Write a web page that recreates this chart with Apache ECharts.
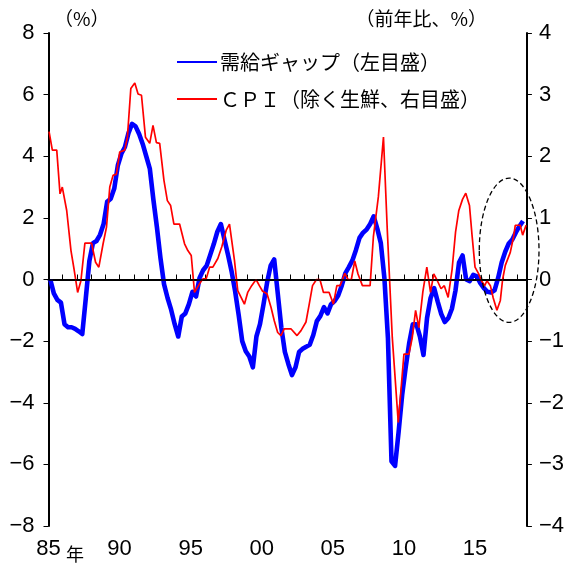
<!DOCTYPE html>
<html>
<head>
<meta charset="utf-8">
<script src="https://cdn.jsdelivr.net/npm/echarts@6/dist/echarts.min.js"></script>
<style>
  html, body { margin: 0; padding: 0; background: #fff; }
  #chart { width: 567px; height: 565px; }
</style>
</head>
<body>
<div id="chart"></div>
<script>
// Output gap (%, quarterly from 1985Q1), left scale
const gapStartYear = 1985;
const gapValues = [
  0.0, -0.45, -0.66, -0.75, -1.45, -1.55, -1.55, -1.6,
  -1.68, -1.77, -0.6, 0.6, 1.18, 1.25, 1.45, 1.8,
  2.52, 2.62, 2.95, 3.7, 4.08, 4.3, 4.75, 5.05,
  4.97, 4.72, 4.4, 4.0, 3.6, 2.6, 1.7, 0.7,
  -0.15, -0.6, -0.98, -1.45, -1.85, -1.2, -1.1, -0.8,
  -0.4, -0.55, 0.05, 0.3, 0.45, 0.8, 1.15, 1.55,
  1.8, 1.3, 0.8, 0.27, -0.38, -1.15, -2.0, -2.33,
  -2.5, -2.85, -1.85, -1.45, -0.8, -0.1, 0.45, 0.65,
  -0.45, -1.55, -2.35, -2.75, -3.1, -2.85, -2.35, -2.25,
  -2.18, -2.12, -1.8, -1.35, -1.18, -0.9, -1.1, -0.8,
  -0.7, -0.52, -0.2, 0.2, 0.4, 0.62, 0.96, 1.35,
  1.52, 1.62, 1.8, 2.05, 1.65, 1.18, 0.05, -1.9,
  -5.9, -6.05, -4.95, -3.75, -2.85, -2.05, -1.45, -1.45,
  -1.85, -2.45, -1.25, -0.6, -0.28, -0.72, -1.12, -1.38,
  -1.25, -0.95, -0.36, 0.55, 0.78, 0.0, -0.05, 0.15,
  0.1, -0.12, -0.28, -0.4, -0.42, -0.35, 0.05, 0.55,
  0.9, 1.17, 1.3, 1.53, 1.73, 1.9
];

// Core CPI (y/y %, excl. fresh food), right scale: dates (fractional year) and values
const cpiTimes = [
  1985.04, 1985.27, 1985.58, 1985.81, 1985.97, 1986.28, 1986.58, 1986.81,
  1987.05, 1987.28, 1987.56, 1988.03, 1988.31, 1988.54, 1988.84, 1989.08,
  1989.31, 1989.54, 1989.78, 1990.01, 1990.36, 1990.55, 1990.79, 1991.07,
  1991.30, 1991.54, 1991.82, 1992.12, 1992.35, 1992.59, 1992.82, 1993.12,
  1993.36, 1993.59, 1993.82, 1994.22, 1994.57, 1994.80, 1995.04, 1995.27,
  1995.62, 1995.86, 1996.09, 1996.33, 1996.56, 1996.91, 1997.19, 1997.50,
  1997.73, 1997.85, 1998.08, 1998.31, 1998.59, 1998.78, 1999.01, 1999.29,
  1999.60, 1999.83, 2000.06, 2000.37, 2000.65, 2000.88, 2001.12, 2001.35,
  2001.58, 2002.05, 2002.48, 2002.76, 2003.11, 2003.34, 2003.57, 2003.85,
  2004.09, 2004.34, 2004.74, 2005.04, 2005.28, 2005.51, 2005.84, 2006.07,
  2006.30, 2006.54, 2006.77, 2007.08, 2007.62, 2007.85, 2008.20, 2008.56,
  2008.83, 2009.18, 2009.60, 2010.00, 2010.35, 2010.58, 2010.82, 2011.05,
  2011.33, 2011.61, 2011.87, 2012.10, 2012.35, 2012.61, 2012.84, 2013.11,
  2013.39, 2013.63, 2013.86, 2014.12, 2014.35, 2014.61, 2014.79, 2015.00,
  2015.24, 2015.45, 2015.68, 2015.84, 2016.08, 2016.28, 2016.54, 2016.78,
  2016.94, 2017.13, 2017.48, 2017.71, 2017.83, 2018.18, 2018.35, 2018.59
];
const cpiValues = [
  2.4, 2.1, 2.1, 1.39, 1.5, 1.12, 0.47, 0.15,
  -0.21, -0.02, 0.59, 0.59, 0.28, 0.2, 0.58, 0.85,
  1.5, 1.69, 1.71, 2.07, 2.1, 2.31, 3.1, 3.19,
  3.01, 2.99, 2.31, 2.21, 2.5, 2.22, 2.21, 1.61,
  1.28, 1.2, 0.9, 0.9, 0.58, 0.47, 0.39, -0.21,
  -0.07, 0.01, 0.01, 0.2, 0.2, 0.34, 0.53, 0.8,
  0.9, 0.9, 0.31, -0.18, -0.31, -0.4, -0.21, -0.1,
  0.0, -0.1, -0.19, -0.23, -0.45, -0.67, -0.86, -0.91,
  -0.8, -0.8, -0.91, -0.83, -0.69, -0.4, -0.1, 0.0,
  0.0, -0.21, -0.21, -0.4, -0.1, -0.1, 0.1, 0.0,
  0.0, 0.3, 0.09, -0.1, -0.1, 0.69, 1.34, 2.31,
  0.8, -0.94, -2.32, -1.21, -1.21, -0.95, -0.5, -0.78,
  -0.2, 0.2, -0.21, 0.09, -0.02, -0.15, -0.1, -0.29,
  0.17, 0.77, 1.12, 1.3, 1.4, 1.2, 0.72, 0.2,
  0.1, -0.02, -0.1, -0.02, -0.1, -0.3, -0.5, -0.34,
  0.0, 0.23, 0.44, 0.69, 0.88, 0.88, 0.72, 0.88
];

const gapName = '需給ギャップ（左目盛）';
const cpiName = 'ＣＰＩ（除く生鮮、右目盛）';

const gapData = gapValues.map((v, i) => [gapStartYear + (i + 0.5) / 4, v]);
const cpiData = cpiTimes.map((t, i) => [t, cpiValues[i]]);

const numFont = '"Liberation Sans Narrow", "Liberation Sans", Arial, sans-serif';
const cjkFont = '"Noto Sans CJK JP", sans-serif';
const minusSign = v => String(v).replace('-', '−');

const chart = echarts.init(document.getElementById('chart'), null, { renderer: 'canvas' });

chart.setOption({
  animation: false,
  backgroundColor: '#fff',
  grid: { left: 48.5, right: 38.5, top: 33, bottom: 39, containLabel: false },
  legend: {
    orient: 'vertical',
    left: 171,
    top: 47,
    itemWidth: 40,
    itemHeight: 14,
    itemGap: 17,
    itemStyle: { opacity: 0 },
    textStyle: { fontFamily: cjkFont, fontSize: 20, color: '#000', padding: [0, 0, 0, -2] },
    data: [gapName, cpiName]
  },
  xAxis: {
    type: 'value',
    min: 1985,
    max: 2018.65,
    interval: 1,
    splitLine: { show: false },
    axisLine: { lineStyle: { color: '#000', width: 2 } },
    axisTick: { inside: true, length: 5, lineStyle: { color: '#000', width: 1 } },
    axisLabel: {
      showMinLabel: true,
      showMaxLabel: false,
      margin: 12,
      fontFamily: numFont,
      fontSize: 22,
      color: '#000',
      formatter: v => (v % 5 === 0 ? String(v % 100).padStart(2, '0') : '')
    }
  },
  yAxis: [
    {
      type: 'value',
      min: -8,
      max: 8,
      interval: 2,
      position: 'left',
      splitLine: { show: false },
      axisLine: { show: true, lineStyle: { color: '#000', width: 2 } },
      axisTick: { show: true, length: 5, lineStyle: { color: '#000', width: 1 } },
      axisLabel: { margin: 14, fontFamily: numFont, fontSize: 22, color: '#000', formatter: minusSign }
    },
    {
      type: 'value',
      min: -4,
      max: 4,
      interval: 1,
      position: 'right',
      splitLine: { show: false },
      axisLine: { show: true, lineStyle: { color: '#000', width: 2 } },
      axisTick: { show: true, length: 5, lineStyle: { color: '#000', width: 1 } },
      axisLabel: { margin: 12, fontFamily: numFont, fontSize: 22, color: '#000', formatter: minusSign }
    }
  ],
  series: [
    {
      name: gapName,
      type: 'line',
      yAxisIndex: 0,
      data: gapData,
      symbol: 'none',
      z: 2,
      lineStyle: { color: '#0000ff', width: 4.6, join: 'round' },
      itemStyle: { color: '#0000ff' }
    },
    {
      name: cpiName,
      type: 'line',
      yAxisIndex: 1,
      data: cpiData,
      symbol: 'none',
      z: 3,
      lineStyle: { color: '#ff0000', width: 1.7 },
      itemStyle: { color: '#ff0000' },
      markLine: {
        silent: true,
        symbol: 'none',
        label: { show: false },
        lineStyle: { color: '#000', width: 1.5, type: 'solid' },
        data: [{ yAxis: 0 }]
      }
    }
  ],
  graphic: [
    { id: 'leftUnit', type: 'text', left: 54, top: 9, style: { text: '（%）', font: '19px ' + cjkFont, fill: '#000' } },
    { id: 'rightUnit', type: 'text', right: 80, top: 9, style: { text: '（前年比、%）', font: '19px ' + cjkFont, fill: '#000' } },
    { id: 'yearMark', type: 'text', left: 66, top: 545, style: { text: '年', font: '18px ' + cjkFont, fill: '#000' } }
  ]
});

// Dashed ellipse around the latest period, placed in data coordinates
const ellipseCenter = chart.convertToPixel({ xAxisIndex: 0, yAxisIndex: 0 }, [2017.4, 0.95]);
const ellipseCorner = chart.convertToPixel({ xAxisIndex: 0, yAxisIndex: 0 }, [2017.4 + 2.1, 0.95 + 2.34]);
chart.setOption({
  graphic: [
    {
      id: 'recentRing',
      type: 'ellipse',
      z: 10,
      shape: {
        cx: ellipseCenter[0],
        cy: ellipseCenter[1],
        rx: Math.abs(ellipseCorner[0] - ellipseCenter[0]),
        ry: Math.abs(ellipseCenter[1] - ellipseCorner[1])
      },
      style: { fill: 'none', stroke: '#000', lineWidth: 1.3, lineDash: [5, 3] }
    }
  ]
});
</script>
</body>
</html>
